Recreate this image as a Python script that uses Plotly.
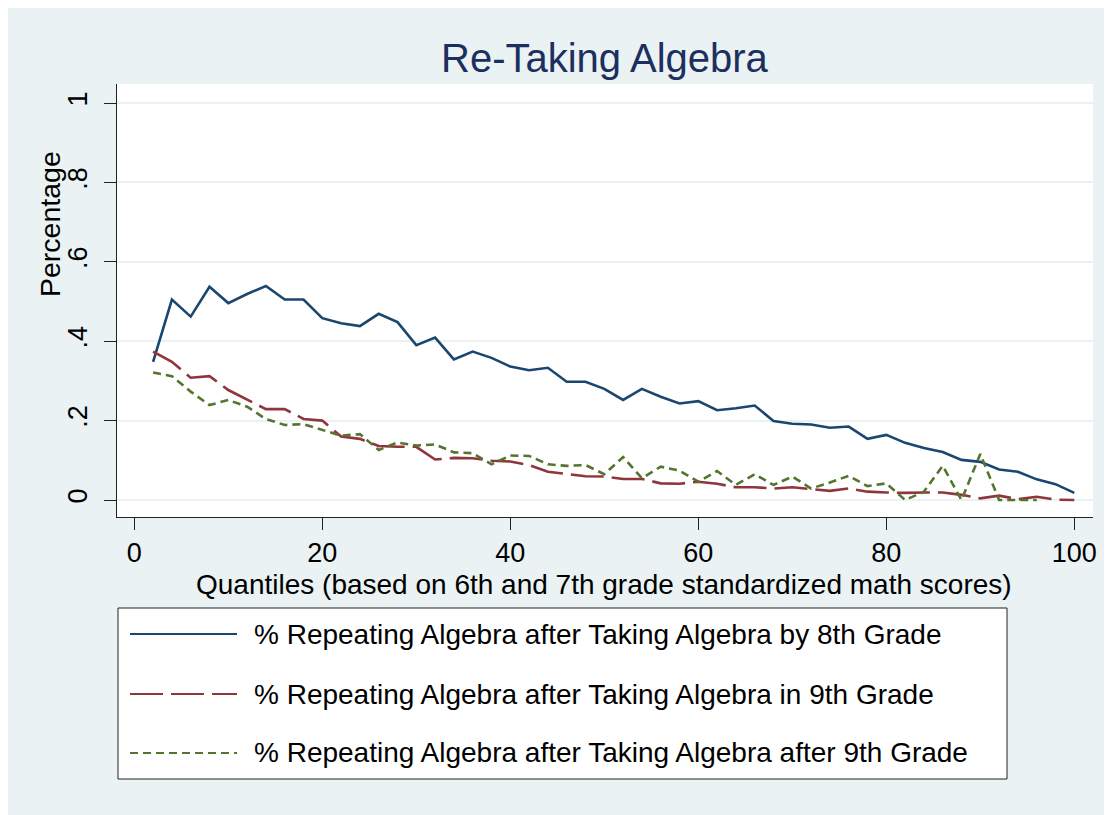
import plotly.graph_objects as go

# ---------------- data ----------------
quantiles = [2, 4, 6, 8, 10, 12, 14, 16, 18, 20,
             22, 24, 26, 28, 30, 32, 34, 36, 38, 40,
             42, 44, 46, 48, 50, 52, 54, 56, 58, 60,
             62, 64, 66, 68, 70, 72, 74, 76, 78, 80,
             82, 84, 86, 88, 90, 92, 94, 96, 98, 100]

by_8th = [0.348, 0.505, 0.462, 0.537, 0.496, 0.519, 0.539, 0.505, 0.505, 0.458,
          0.445, 0.438, 0.469, 0.448, 0.390, 0.409, 0.354, 0.374, 0.358, 0.336,
          0.327, 0.333, 0.298, 0.298, 0.280, 0.252, 0.280, 0.260, 0.243, 0.249,
          0.226, 0.231, 0.238, 0.199, 0.192, 0.190, 0.182, 0.185, 0.154, 0.164,
          0.144, 0.131, 0.121, 0.101, 0.096, 0.077, 0.071, 0.052, 0.040, 0.018]

in_9th = [0.374, 0.348, 0.308, 0.312, 0.277, 0.254, 0.229, 0.229, 0.204, 0.200,
          0.160, 0.154, 0.136, 0.134, 0.134, 0.102, 0.106, 0.105, 0.099, 0.097,
          0.088, 0.071, 0.066, 0.060, 0.059, 0.053, 0.053, 0.042, 0.041, 0.046,
          0.041, 0.032, 0.032, 0.029, 0.032, 0.028, 0.023, 0.029, 0.021, 0.019,
          0.018, 0.019, 0.019, 0.013, 0.004, 0.011, 0.002, 0.008, 0.001, 0.000]

after_9th = [0.321, 0.312, 0.273, 0.239, 0.252, 0.235, 0.204, 0.189, 0.191, 0.176,
             0.162, 0.166, 0.126, 0.145, 0.137, 0.140, 0.120, 0.118, 0.090, 0.112,
             0.111, 0.090, 0.086, 0.088, 0.065, 0.108, 0.055, 0.084, 0.074, 0.046,
             0.073, 0.038, 0.065, 0.038, 0.059, 0.029, 0.044, 0.061, 0.035, 0.042,
             0.000, 0.021, 0.086, 0.000, 0.116, 0.000, 0.000, 0.000, None, None]

series_names = ["% Repeating Algebra after Taking Algebra by 8th Grade",
                "% Repeating Algebra after Taking Algebra in 9th Grade",
                "% Repeating Algebra after Taking Algebra after 9th Grade"]

x_ticks = [0, 20, 40, 60, 80, 100]
y_ticks = [0, 0.2, 0.4, 0.6, 0.8, 1]
y_tick_labels = ["0", ".2", ".4", ".6", ".8", "1"]

title_text = "Re-Taking Algebra"
x_title = "Quantiles (based on 6th and 7th grade standardized math scores)"
y_title = "Percentage"

# ---------------- styles ----------------
FONT = "Liberation Sans, Arial, sans-serif"
colors = ["#1a476f", "#90353b", "#55752f"]
dashes = ["solid", "33px,8px", "8px,5px"]
BG = "#EAF2F3"

OFF = 8  # page body margin
W, H = 1112 - OFF, 815 - OFF
# plot area in reference-page pixels
PL, PR, PT, PB = 117, 1093, 84, 517
ML, MT = PL - OFF, PT - OFF
MR = W - (PR - OFF)
MB = H - (PB - OFF)
PW, PH = PR - PL, PB - PT


def px_x(p):
    return (p - PL) / PW


def px_y(p):
    return (PB - p) / PH


fig = go.Figure()
for vals, name, c, d in zip([by_8th, in_9th, after_9th], series_names, colors, dashes):
    fig.add_trace(go.Scatter(x=quantiles, y=vals, mode="lines", name=name,
                             line=dict(color=c, width=2.6, dash=d),
                             connectgaps=False, showlegend=False))

shapes = []
# white plot region
shapes.append(dict(type="rect", xref="paper", yref="paper", layer="below",
                   x0=0, x1=1, y0=0, y1=1, fillcolor="white", line=dict(width=0)))
# legend box
shapes.append(dict(type="rect", xref="paper", yref="paper",
                   x0=px_x(118), x1=px_x(1007), y0=px_y(779), y1=px_y(608),
                   fillcolor="white", line=dict(color="#222222", width=1)))

annotations = []
rows = [634, 694, 753]
for name, c, d, r in zip(series_names, colors, dashes, rows):
    shapes.append(dict(type="line", xref="paper", yref="paper",
                       x0=px_x(130), x1=px_x(237), y0=px_y(r), y1=px_y(r),
                       line=dict(color=c, width=2, dash=d)))
    annotations.append(dict(text=name, xref="paper", yref="paper",
                            x=px_x(252), y=px_y(r), xanchor="left", yanchor="middle",
                            showarrow=False, font=dict(family=FONT, size=28, color="black")))

annotations.append(dict(text=title_text, xref="paper", yref="paper",
                        x=0.5, y=px_y(58), xanchor="center", yanchor="middle",
                        showarrow=False, font=dict(family=FONT, size=40, color="#1c2f5e")))
annotations.append(dict(text=x_title, xref="paper", yref="paper",
                        x=px_x(604), y=px_y(584), xanchor="center", yanchor="middle",
                        showarrow=False, font=dict(family=FONT, size=28, color="black")))
annotations.append(dict(text=y_title, xref="paper", yref="paper",
                        x=px_x(50), y=px_y(224), xanchor="center", yanchor="middle",
                        textangle=-90, showarrow=False,
                        font=dict(family=FONT, size=28.5, color="black")))

fig.update_layout(
    width=W, height=H,
    margin=dict(l=ML, r=MR, t=MT, b=MB),
    paper_bgcolor=BG, plot_bgcolor="rgba(0,0,0,0)",
    font=dict(family=FONT, size=27, color="black"),
    shapes=shapes, annotations=annotations, showlegend=False,
)

x0_px, x100_px = 134.3, 1074.3
ux = (x100_px - x0_px) / 100
fig.update_xaxes(range=[(PL - x0_px) / ux, (PR - x0_px) / ux],
                 tickmode="array", tickvals=x_ticks, ticktext=[str(v) for v in x_ticks],
                 ticks="outside", ticklen=12, tickwidth=1, tickcolor="#222222",
                 showline=True, linecolor="#222222", linewidth=1,
                 showgrid=False, zeroline=False, ticklabelstandoff=0,
                 tickfont=dict(family=FONT, size=27, color="black"))

y0_px, y1_px = 500.0, 103.0
uy = (y0_px - y1_px)
fig.update_yaxes(range=[(y0_px - PB) / uy, (y0_px - PT) / uy],
                 tickmode="array", tickvals=y_ticks, ticktext=y_tick_labels,
                 ticks="outside", ticklen=12, tickwidth=1, tickcolor="#222222",
                 showline=True, linecolor="#222222", linewidth=1,
                 showgrid=True, gridcolor=BG, gridwidth=2, zeroline=False,
                 tickangle=-90, ticklabelstandoff=6,
                 tickfont=dict(family=FONT, size=27, color="black"))

fig.write_html("out.html")
